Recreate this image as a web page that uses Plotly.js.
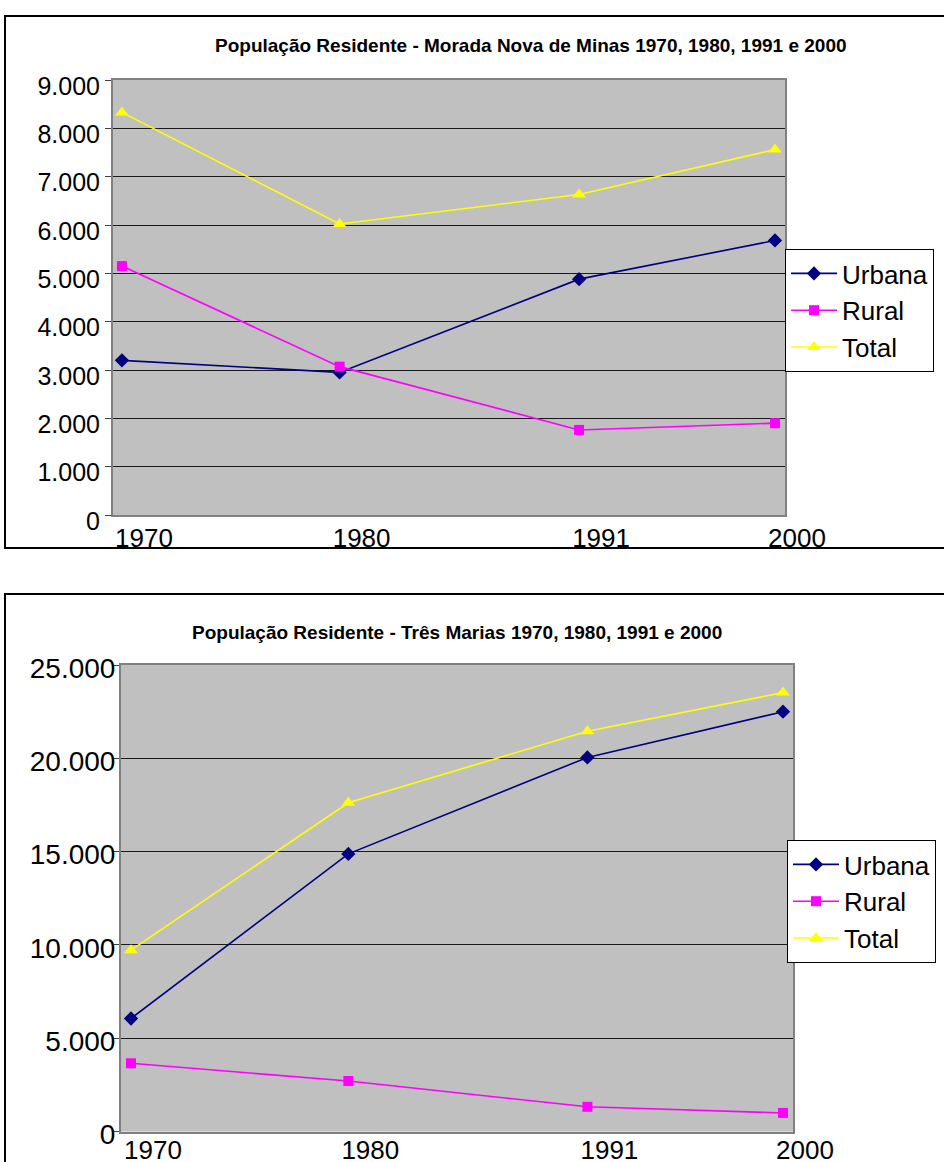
<!DOCTYPE html>
<html>
<head>
<meta charset="utf-8">
<script src="https://cdn.plot.ly/plotly-3.0.1.min.js"></script>
<style>html,body{margin:0;padding:0;background:#fff;}#chart{width:944px;height:1162px;}</style>
</head>
<body>
<div id="chart"></div>
<script>
// ---- data ----
const years = [1970, 1980, 1991, 2000];
const yearLabels = ['1970', '1980', '1991', '2000'];
const seriesNames = ['Urbana', 'Rural', 'Total'];

const moradaTitle = 'População Residente - Morada Nova de Minas 1970, 1980, 1991 e 2000';
const moradaUrbana = [3200, 2950, 4880, 5680];
const moradaRural  = [5150, 3070, 1760, 1900];
const moradaTotal  = [8330, 6020, 6630, 7560];

const tresTitle = 'População Residente - Três Marias 1970, 1980, 1991 e 2000';
const tresUrbana = [6060, 14880, 20050, 22500];
const tresRural  = [3660, 2710, 1330, 1000];
const tresTotal  = [9720, 17620, 21450, 23520];

// ---- styles ----
const W = 944, H = 1162;
const styles = [
  {color: '#000080', symbol: 'diamond', size: 11},
  {color: '#ff00ff', symbol: 'square', size: 10},
  {color: '#ffff00', symbol: 'triangle-up', size: 12}
];
const font = 'Liberation Sans, Arial, sans-serif';

function mk(vals, i, xa, ya, leg) {
  return {
    x: years, y: vals, name: seriesNames[i], type: 'scatter', mode: 'lines+markers',
    xaxis: xa, yaxis: ya, legend: leg, cliponaxis: false,
    line: {color: styles[i].color, width: 1.6},
    marker: {color: styles[i].color, symbol: styles[i].symbol, size: styles[i].size}
  };
}

const traces = [
  mk(moradaUrbana, 0, 'x', 'y', 'legend'),
  mk(moradaRural, 1, 'x', 'y', 'legend'),
  mk(moradaTotal, 2, 'x', 'y', 'legend'),
  mk(tresUrbana, 0, 'x2', 'y2', 'legend2'),
  mk(tresRural, 1, 'x2', 'y2', 'legend2'),
  mk(tresTotal, 2, 'x2', 'y2', 'legend2')
];

function px(x) { return x / W; }
function py(y) { return 1 - y / H; }

const xCommon = {
  tickmode: 'array', tickvals: years, ticktext: yearLabels,
  showgrid: false, zeroline: false, ticks: '',
  showline: true, mirror: true, linecolor: '#808080', linewidth: 2,
  tickfont: {family: font, size: 26, color: '#000'},
  ticklabelshift: 22, fixedrange: true
};
const yCommon = {
  showgrid: true, gridcolor: '#1a1a1a', gridwidth: 1, zeroline: false,
  ticks: 'outside', ticklen: 6, tickcolor: '#404040', tickwidth: 1,
  showline: true, mirror: true, linecolor: '#808080', linewidth: 2,
  tickformat: ',d', tickfont: {family: font, size: 25, color: '#000'},
  fixedrange: true
};

const legendCommon = {
  bgcolor: '#ffffff', bordercolor: '#000000', borderwidth: 1,
  font: {family: font, size: 26, color: '#000'},
  xanchor: 'left', yanchor: 'top', itemwidth: 46, tracegroupgap: 0
};

const layout = {
  width: W, height: H, margin: {l: 0, r: 0, t: 0, b: 0},
  paper_bgcolor: '#ffffff', plot_bgcolor: '#c0c0c0',
  separators: ',.', showlegend: true,
  xaxis: Object.assign({}, xCommon, {domain: [px(113), px(785)], range: [1969.59, 2000.46], anchor: 'y', ticklabelstandoff: -1}),
  yaxis: Object.assign({}, yCommon, {domain: [py(515), py(80)], range: [0, 9000], dtick: 1000, anchor: 'x', ticklabelstandoff: 0, ticklabelshift: 6}),
  xaxis2: Object.assign({}, xCommon, {domain: [px(121), px(793)], range: [1969.54, 2000.46], anchor: 'y2', ticklabelstandoff: -6}),
  yaxis2: Object.assign({}, yCommon, {domain: [py(1131.6), py(665)], range: [0, 25000], dtick: 5000, anchor: 'x2', ticklen: 5,
    tickfont: {family: font, size: 28, color: '#000'}, ticklabelstandoff: -7, ticklabelshift: 3}),
  legend: Object.assign({}, legendCommon, {x: px(785), y: py(249)}),
  legend2: Object.assign({}, legendCommon, {x: px(787), y: py(840)}),
  annotations: [
    {text: moradaTitle, xref: 'paper', yref: 'paper', x: px(531), y: py(45), showarrow: false,
     xanchor: 'center', yanchor: 'middle', font: {family: font, size: 19, color: '#000', weight: 'bold'}},
    {text: tresTitle, xref: 'paper', yref: 'paper', x: px(457), y: py(632), showarrow: false,
     xanchor: 'center', yanchor: 'middle', font: {family: font, size: 19, color: '#000', weight: 'bold'}}
  ],
  shapes: [
    {type: 'rect', xref: 'paper', yref: 'paper', x0: px(5), x1: px(950), y0: py(548), y1: py(16),
     line: {color: '#000', width: 2}, fillcolor: 'rgba(0,0,0,0)', layer: 'below'},
    {type: 'rect', xref: 'paper', yref: 'paper', x0: px(5), x1: px(950), y0: py(1175), y1: py(594),
     line: {color: '#000', width: 2}, fillcolor: 'rgba(0,0,0,0)', layer: 'below'}
  ]
};

Plotly.newPlot('chart', traces, layout, {displayModeBar: false, staticPlot: true});
</script>
</body>
</html>
